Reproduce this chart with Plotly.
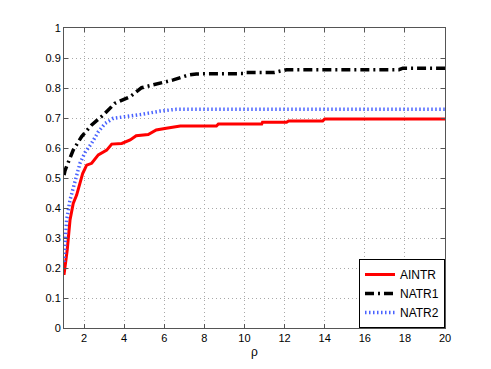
import plotly.graph_objects as go

# AINTR
rho_a = [1.0, 1.16, 1.3, 1.46, 1.63, 1.8, 1.93, 2.13, 2.38, 2.71, 3.13, 3.38, 3.88, 4.3, 4.6,
         5.2, 5.6, 6.1, 6.8, 8.6, 8.7, 10.86, 10.9, 12.1, 12.2, 13.9, 14.0, 20.0]
aintr = [0.177, 0.26, 0.36, 0.415, 0.443, 0.48, 0.515, 0.543, 0.549, 0.577, 0.593, 0.613, 0.615,
         0.627, 0.641, 0.645, 0.66, 0.666, 0.673, 0.673, 0.680, 0.680, 0.686, 0.686, 0.690, 0.690,
         0.697, 0.697]

# NATR1
rho_1 = [1.0, 1.05, 1.46, 1.88, 2.38, 2.96, 3.54, 4.3, 4.87, 5.6, 6.45, 7.2, 7.6, 10.0, 10.1,
         11.5, 12.1, 17.7, 17.9, 20.0]
natr1 = [0.51, 0.525, 0.593, 0.638, 0.677, 0.71, 0.749, 0.771, 0.801, 0.812, 0.827, 0.843, 0.847,
         0.848, 0.852, 0.852, 0.861, 0.861, 0.866, 0.866]

# NATR2
rho_2 = [1.0, 1.13, 1.3, 1.55, 1.8, 2.05, 2.38, 2.71, 3.05, 3.46, 4.13, 4.96, 5.79, 6.6, 20.0]
natr2 = [0.22, 0.36, 0.427, 0.493, 0.55, 0.585, 0.616, 0.654, 0.682, 0.699, 0.704, 0.713, 0.723,
         0.729, 0.729]

x_ticks = [2, 4, 6, 8, 10, 12, 14, 16, 18, 20]
y_ticks = [0, 0.1, 0.2, 0.3, 0.4, 0.5, 0.6, 0.7, 0.8, 0.9, 1]
y_labels = ["0", "0.1", "0.2", "0.3", "0.4", "0.5", "0.6", "0.7", "0.8", "0.9", "1"]

fig = go.Figure()
fig.add_trace(go.Scatter(x=rho_a, y=aintr, mode="lines", name="AINTR",
                         line=dict(color="#ff0000", width=3)))
fig.add_trace(go.Scatter(x=rho_1, y=natr1, mode="lines", name="NATR1",
                         line=dict(color="black", width=3.5, dash="9px,4px,2px,4px")))
fig.add_trace(go.Scatter(x=rho_2, y=natr2, mode="lines", name="NATR2",
                         line=dict(color="#4a63ff", width=3.5, dash="1.5px,2.5px")))

axis_style = dict(showline=True, linecolor="#555", linewidth=1, mirror="ticks",
                  ticks="inside", ticklen=4, tickcolor="#555",
                  showgrid=True, gridcolor="#a8a8a8", griddash="1px,3px", gridwidth=1,
                  zeroline=False, tickfont=dict(size=11, color="black"))

fig.update_xaxes(range=[1, 20], tickvals=x_ticks, title=dict(text="ρ", standoff=4,
                 font=dict(size=12, color="black")), **axis_style)
fig.update_yaxes(range=[0, 1], tickvals=y_ticks, ticktext=y_labels, **axis_style)

# the page body adds an 8px offset, so the figure is a bit smaller than the window
fig.update_layout(
    width=483, height=361,
    margin=dict(l=56, r=46, t=20, b=41),
    paper_bgcolor="white", plot_bgcolor="white",
    font=dict(family="Liberation Sans, Arial, sans-serif", size=11, color="black"),
    legend=dict(x=1, xanchor="right", y=0, yanchor="bottom",
                bordercolor="black", borderwidth=1, bgcolor="white",
                font=dict(size=12), tracegroupgap=0, itemwidth=30),
    showlegend=True,
)

fig.write_html("out.html")
